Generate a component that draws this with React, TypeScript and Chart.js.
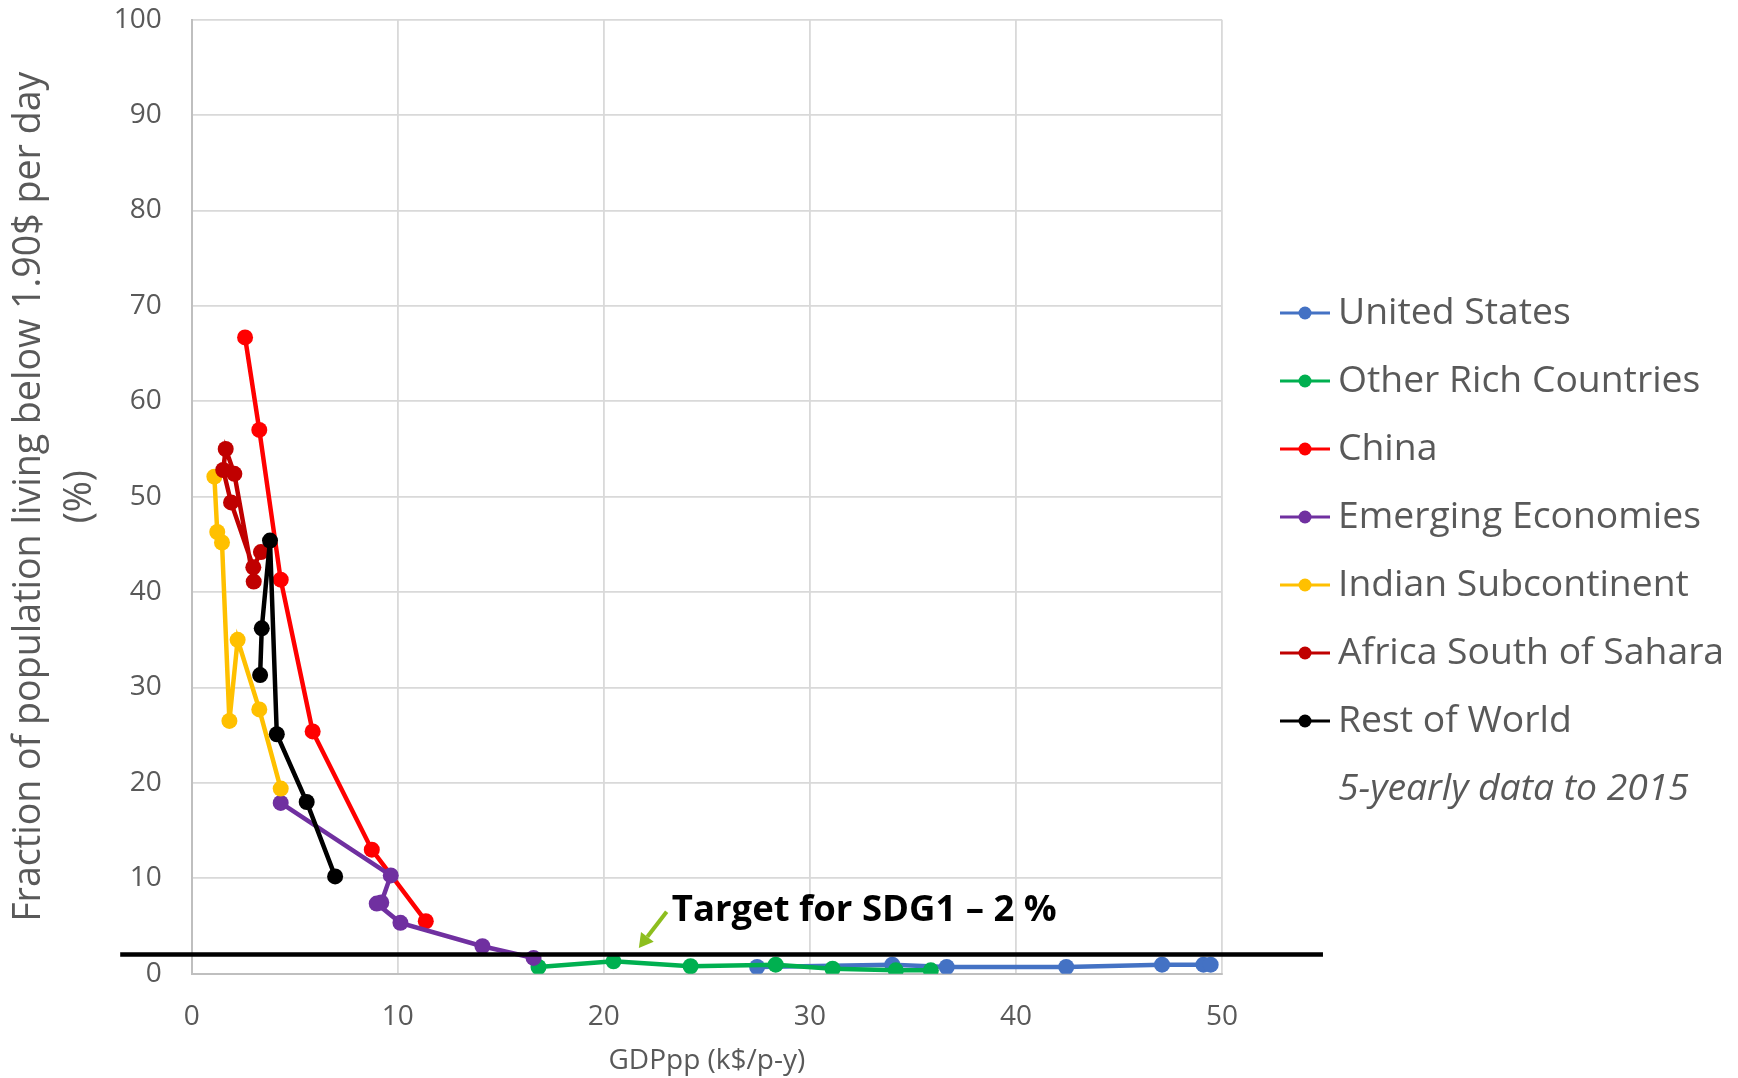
import React, { useEffect, useRef } from 'react';
import { Chart, registerables } from 'chart.js';

Chart.register(...registerables);

// ---------- data ----------
const seriesNames = [
  'United States',
  'Other Rich Countries',
  'China',
  'Emerging Economies',
  'Indian Subcontinent',
  'Africa South of Sahara',
  'Rest of World',
];
const seriesColors = ['#4472C4', '#00B050', '#FF0000', '#7030A0', '#FFC000', '#C00000', '#000000'];

const usGdp = [27.44, 34.0, 36.64, 42.44, 47.09, 49.1, 49.45];
const usPoverty = [0.7, 0.95, 0.7, 0.7, 0.95, 0.95, 0.95];
const otherRichGdp = [16.83, 20.47, 24.21, 28.34, 31.1, 34.17, 35.87];
const otherRichPoverty = [0.7, 1.3, 0.78, 0.95, 0.53, 0.35, 0.35];
const chinaGdp = [2.59, 3.28, 4.32, 5.87, 8.74, 11.36];
const chinaPoverty = [66.7, 57.0, 41.3, 25.4, 13.0, 5.5];
const emergingGdp = [4.32, 9.66, 9.2, 8.98, 10.13, 14.11, 16.59];
const emergingPoverty = [17.9, 10.3, 7.46, 7.35, 5.33, 2.88, 1.65];
const indianGdp = [1.1, 1.24, 1.47, 1.83, 2.23, 3.28, 4.32];
const indianPoverty = [52.1, 46.3, 45.2, 26.5, 35.0, 27.7, 19.4];
const africaGdp = [3.36, 2.99, 1.91, 1.53, 1.65, 2.07, 3.01];
const africaPoverty = [44.2, 42.6, 49.4, 52.8, 55.0, 52.4, 41.1];
const restGdp = [3.32, 3.4, 3.8, 4.13, 5.58, 6.96];
const restPoverty = [31.3, 36.2, 45.4, 25.1, 18.0, 10.2];

const seriesGdp = [usGdp, otherRichGdp, chinaGdp, emergingGdp, indianGdp, africaGdp, restGdp];
const seriesPoverty = [usPoverty, otherRichPoverty, chinaPoverty, emergingPoverty, indianPoverty, africaPoverty, restPoverty];

const targetGdp = [-3.47, 54.9];
const targetLevel = 2;

const xTickValues = [0, 10, 20, 30, 40, 50];
const yTickValues = [0, 10, 20, 30, 40, 50, 60, 70, 80, 90, 100];

const annotationText = 'Target for SDG1 \u2013 2 %';
const annotationAt = [23.3, 5.5];
const arrowFrom = [23.05, 6.5];
const arrowTo = [21.7, 2.7];

const noteText = '5-yearly data to 2015';
const xTitle = 'GDPpp (k$/p-y)';
const yTitle = ['Fraction of population living below 1.90$ per day', '(%)'];

// ---------- styling ----------
const FONT = "'Open Sans', sans-serif";
const GREY_TEXT = '#595959';

const overlayPlugin = {
  id: 'overlay',
  afterDatasetsDraw(chart: any) {
    const { ctx } = chart;
    const xs = chart.scales.x;
    const ys = chart.scales.y;
    ctx.save();
    // arrow
    const x1 = xs.getPixelForValue(arrowFrom[0]);
    const y1 = ys.getPixelForValue(arrowFrom[1]);
    const x2 = xs.getPixelForValue(arrowTo[0]);
    const y2 = ys.getPixelForValue(arrowTo[1]);
    const ang = Math.atan2(y2 - y1, x2 - x1);
    const head = 14;
    const hw = 8;
    const bx = x2 - head * Math.cos(ang);
    const by = y2 - head * Math.sin(ang);
    ctx.strokeStyle = '#8DBE1E';
    ctx.fillStyle = '#8DBE1E';
    ctx.lineWidth = 4;
    ctx.beginPath();
    ctx.moveTo(x1, y1);
    ctx.lineTo(bx, by);
    ctx.stroke();
    ctx.beginPath();
    ctx.moveTo(x2, y2);
    ctx.lineTo(bx + hw * Math.sin(ang), by - hw * Math.cos(ang));
    ctx.lineTo(bx - hw * Math.sin(ang), by + hw * Math.cos(ang));
    ctx.closePath();
    ctx.fill();
    // annotation text
    ctx.fillStyle = '#000000';
    ctx.font = `bold 36.5px ${FONT}`;
    ctx.textAlign = 'left';
    ctx.textBaseline = 'alphabetic';
    ctx.fillText(annotationText, xs.getPixelForValue(annotationAt[0]), ys.getPixelForValue(annotationAt[1]));
    ctx.restore();
  },
  afterDraw(chart: any) {
    const { ctx } = chart;
    ctx.save();
    const lineX1 = 1280;
    const lineX2 = 1330;
    const textX = 1338;
    const startY = 313;
    const step = 68;
    ctx.font = `37.3px ${FONT}`;
    ctx.textBaseline = 'middle';
    ctx.textAlign = 'left';
    seriesNames.forEach((name, i) => {
      const yy = startY + i * step;
      ctx.strokeStyle = seriesColors[i];
      ctx.lineWidth = 3;
      ctx.beginPath();
      ctx.moveTo(lineX1, yy);
      ctx.lineTo(lineX2, yy);
      ctx.stroke();
      ctx.fillStyle = seriesColors[i];
      ctx.beginPath();
      ctx.arc((lineX1 + lineX2) / 2, yy, 6.5, 0, Math.PI * 2);
      ctx.fill();
      ctx.fillStyle = GREY_TEXT;
      ctx.fillText(name, textX, yy);
    });
    ctx.font = `italic 37.3px ${FONT}`;
    ctx.fillStyle = GREY_TEXT;
    ctx.fillText(noteText, textX, startY + seriesNames.length * step);
    ctx.restore();
  },
};

export default function App() {
  const canvasRef = useRef<HTMLCanvasElement | null>(null);

  useEffect(() => {
    if (!canvasRef.current) return;
    const datasets: any[] = seriesNames.map((name, i) => ({
      label: name,
      data: seriesGdp[i].map((g, k) => ({ x: g, y: seriesPoverty[i][k] })),
      showLine: true,
      borderColor: seriesColors[i],
      backgroundColor: seriesColors[i],
      pointBackgroundColor: seriesColors[i],
      pointBorderWidth: 0,
      pointRadius: 8,
      borderWidth: 4.5,
      tension: 0,
      order: seriesNames.length - i,
    }));
    datasets.push({
      label: 'Target',
      data: targetGdp.map((g) => ({ x: g, y: targetLevel })),
      showLine: true,
      borderColor: '#000000',
      backgroundColor: '#000000',
      pointRadius: 0,
      borderWidth: 4.5,
      clip: false,
      order: 0,
    });

    const chart = new Chart(canvasRef.current, {
      type: 'scatter',
      data: { datasets },
      plugins: [overlayPlugin],
      options: {
        animation: false,
        responsive: true,
        maintainAspectRatio: false,
        layout: { padding: { top: 19.7, right: 516, bottom: 0, left: 0 } },
        plugins: {
          legend: { display: false },
          tooltip: { enabled: false },
        },
        scales: {
          x: {
            type: 'linear',
            min: 0,
            max: 50,
            afterFit: (s: any) => {
              s.height = 104.3;
              s.paddingLeft = 0;
              s.paddingRight = 0;
            },
            afterBuildTicks: (s: any) => {
              s.ticks = xTickValues.map((v) => ({ value: v }));
            },
            grid: { color: '#d9d9d9', lineWidth: 1.8, drawTicks: false },
            border: { color: '#bfbfbf', width: 2 },
            ticks: {
              padding: 27,
              color: GREY_TEXT,
              font: { family: FONT, size: 28 },
            },
            title: {
              display: true,
              text: xTitle,
              color: GREY_TEXT,
              font: { family: FONT, size: 28 },
              padding: { top: 0, bottom: 0 },
            },
          },
          y: {
            type: 'linear',
            min: 0,
            max: 100,
            afterFit: (s: any) => {
              s.width = 191.7;
              s.paddingTop = 0;
              s.paddingBottom = 0;
            },
            afterBuildTicks: (s: any) => {
              s.ticks = yTickValues.map((v) => ({ value: v }));
            },
            grid: { color: '#d9d9d9', lineWidth: 1.8, drawTicks: false },
            border: { color: '#bfbfbf', width: 2 },
            ticks: {
              padding: 30,
              color: GREY_TEXT,
              font: { family: FONT, size: 28 },
            },
            title: {
              display: true,
              text: yTitle,
              color: GREY_TEXT,
              font: { family: FONT, size: 37.6, lineHeight: 1.36 },
              padding: { top: 4, bottom: 0 },
            },
          },
        },
      } as any,
    });
    return () => chart.destroy();
  }, []);

  return (
    <div style={{ position: 'fixed', left: 0, top: 0, width: '1738px', height: '1078px', background: '#ffffff' }}>
      <canvas ref={canvasRef} />
    </div>
  );
}
